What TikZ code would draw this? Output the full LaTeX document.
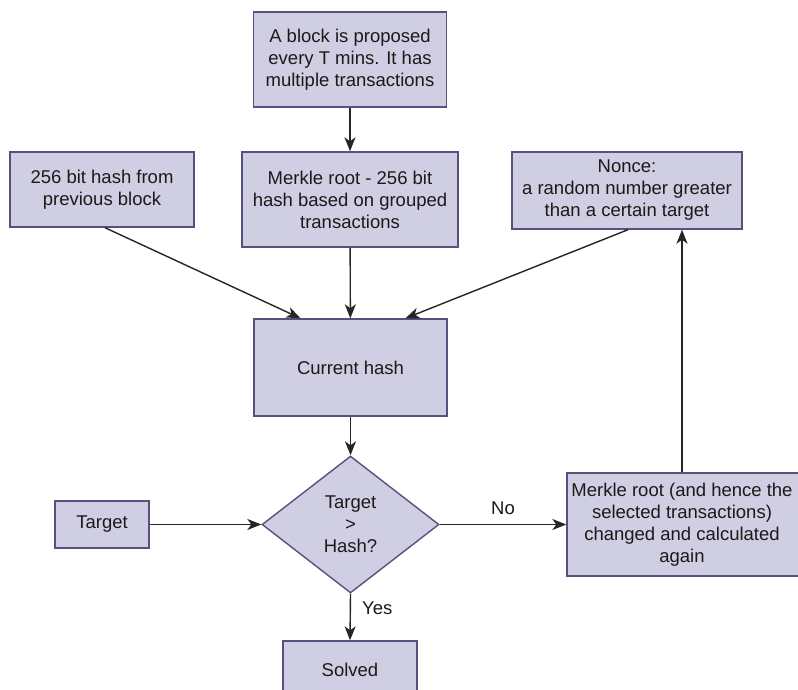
\documentclass[tikz,border=0pt]{standalone}
\usepackage{fontspec}
\setmainfont{Liberation Sans}
\usetikzlibrary{shapes.geometric,arrows.meta}
\definecolor{boxfill}{HTML}{D0CEE2}
\definecolor{boxline}{HTML}{56517E}
\definecolor{txt}{HTML}{1A1A1A}
\begin{document}
\begin{tikzpicture}[x=1pt,y=-1pt,
  every node/.style={font=\fontsize{18.5}{22}\selectfont, text=txt},
  box/.style={draw=boxline, fill=boxfill, line width=1.4pt, align=center, inner sep=0pt},
  dia/.style={draw=boxline, fill=boxfill, line width=1.4pt, align=center, shape=diamond, inner sep=0pt, minimum width=177pt, minimum height=137pt},
  conn/.style={draw=black!85, line width=1.4pt, -{Stealth[length=14pt,width=11pt,inset=4pt]}},
  lbl/.style={fill=white, inner sep=1pt}]
\useasboundingbox (0,0) rectangle (798,690);
\fill[white] (0,0) rectangle (798,690);
\node[box, minimum width=193pt, minimum height=95pt] (top) at (350,59.5) {A block is proposed\\every T mins. It has\\multiple transactions};
\node[box, minimum width=184pt, minimum height=75pt] (prev) at (102,189.5) {256 bit hash from\\previous block};
\node[box, minimum width=216pt, minimum height=95pt] (merkle) at (350,199.5) {Merkle root - 256 bit\\hash based on grouped\\transactions};
\node[box, minimum width=230pt, minimum height=77pt] (nonce) at (627,190.5) {Nonce:\\a random number greater\\than a certain target};
\node[box, minimum width=193pt, minimum height=97pt] (cur) at (350.5,367.5) {Current hash};
\node[dia] (dec) at (350.5,524.5) {Target\\>\\Hash?};
\node[box, minimum width=94pt, minimum height=47pt] (target) at (102,524.5) {Target};
\node[box, minimum width=234pt, minimum height=103pt] (right) at (684,524.5) {};
\node[align=center, inner sep=0pt] (righttext) at (682,524.5) {Merkle root (and hence the\\selected transactions)\\changed and calculated\\again};
\node[box, minimum width=134pt, minimum height=58pt] (solved) at (350,670) {Solved};

\draw[conn] (top) -- (merkle);
\draw[conn] ([xshift=3pt]prev.south) -- ([xshift=-50pt]cur.north);
\draw[conn] (merkle) -- (cur);
\draw[conn] ([xshift=1pt]nonce.south) -- ([xshift=55pt]cur.north);
\draw[conn] (cur) -- (dec);
\draw[conn] (target) -- (dec);
\draw[conn] (dec.east) -- node[lbl, yshift=16pt] (no) {No} (right.west);
\draw[conn] (righttext |- right.north) -- (righttext |- nonce.south);
\draw[conn] (dec.south) -- node[lbl, xshift=27pt, yshift=9pt] (yes) {Yes} (solved.north);
\end{tikzpicture}
\end{document}
